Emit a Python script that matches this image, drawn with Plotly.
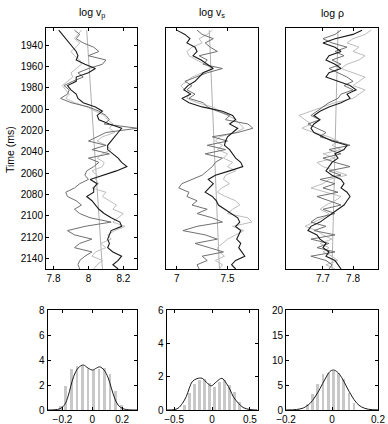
import plotly.graph_objects as go

# sample times (ms) of the well-log traces
time_ms = [1926, 1930, 1934, 1938, 1942, 1946, 1950, 1954, 1958, 1962,
           1966, 1970, 1974, 1978, 1982, 1986, 1990, 1994, 1998, 2002,
           2006, 2010, 2014, 2018, 2022, 2026, 2030, 2034, 2038, 2042,
           2046, 2050, 2054, 2058, 2062, 2066, 2070, 2074, 2078, 2082,
           2086, 2090, 2094, 2098, 2102, 2106, 2110, 2114, 2118, 2122,
           2126, 2130, 2134, 2138, 2142, 2146, 2150]

trend_t = [1926, 2150]

# log vp
vp_black = [7.83, 7.85, 7.87, 7.89, 7.91, 7.93, 7.94, 7.93, 7.98, 8.04,
            8.00, 7.93, 7.93, 7.88, 7.90, 7.93, 7.94, 7.97, 8.04, 8.08,
            8.05, 8.06, 8.12, 8.19, 8.17, 8.15, 8.13, 8.11, 8.11, 8.14,
            8.17, 8.19, 8.22, 8.16, 8.08, 8.01, 8.05, 8.03, 8.03, 7.99,
            8.02, 8.04, 8.06, 8.09, 8.13, 8.18, 8.19, 8.13, 8.12, 8.11,
            8.12, 8.11, 8.14, 8.19, 8.17, 8.14, 8.17]
vp_dark = [7.92, 7.95, 7.93, 7.97, 8.03, 8.06, 8.00, 8.10, 8.08, 8.00,
           7.94, 7.97, 7.91, 7.86, 7.89, 7.88, 7.84, 7.90, 8.00, 8.06,
           8.10, 8.12, 8.09, 8.28, 8.10, 8.05, 8.00, 8.10, 8.02, 8.12,
           8.00, 8.06, 8.03, 7.99, 7.98, 8.00, 7.95, 7.92, 7.87, 7.88,
           7.93, 7.96, 7.92, 7.95, 8.01, 8.13, 7.98, 7.88, 7.92, 8.02,
           7.95, 7.92, 8.02, 7.98, 7.95, 7.94, 7.95]
vp_light = [7.96, 7.94, 7.92, 7.95, 7.93, 7.90, 7.92, 7.95, 7.96, 7.93,
            7.90, 7.91, 7.88, 7.85, 7.87, 7.89, 7.87, 7.92, 7.99, 8.04,
            8.09, 8.11, 8.14, 8.12, 8.15, 8.08, 8.05, 8.10, 8.13, 8.08,
            8.05, 8.09, 8.08, 8.02, 8.05, 8.04, 8.06, 8.02, 8.10, 8.08,
            8.12, 8.16, 8.14, 8.20, 8.17, 8.14, 8.21, 8.15, 8.11, 8.13,
            8.07, 8.10, 8.04, 8.02, 8.08, 8.05, 8.03]
vp_trend = [7.99, 8.08]

# log vs
vs_black = [7.00, 7.08, 7.13, 7.10, 7.18, 7.20, 7.16, 7.24, 7.30, 7.36,
            7.26, 7.22, 7.18, 7.11, 7.07, 7.14, 7.05, 7.12, 7.25, 7.45,
            7.55, 7.58, 7.52, 7.60, 7.55, 7.50, 7.48, 7.47, 7.52, 7.55,
            7.58, 7.63, 7.65, 7.52, 7.38, 7.31, 7.36, 7.32, 7.28, 7.35,
            7.39, 7.41, 7.47, 7.53, 7.60, 7.62, 7.58, 7.63, 7.61, 7.59,
            7.63, 7.61, 7.64, 7.67, 7.58, 7.54, 7.58]
vs_dark = [7.20, 7.25, 7.36, 7.28, 7.33, 7.40, 7.22, 7.30, 7.26, 7.45,
           7.30, 7.18, 7.08, 7.15, 7.10, 7.18, 7.12, 7.26, 7.30, 7.40,
           7.52, 7.48, 7.70, 7.75, 7.60, 7.35, 7.50, 7.30, 7.48, 7.28,
           7.45, 7.38, 7.35, 7.30, 7.25, 7.15, 7.05, 7.02, 7.12, 7.10,
           7.20, 7.15, 7.30, 7.20, 7.35, 7.45, 7.20, 7.06, 7.28, 7.40,
           7.18, 7.32, 7.46, 7.25, 7.30, 7.20, 7.22]
vs_light = [7.35, 7.30, 7.22, 7.25, 7.15, 7.10, 7.12, 7.20, 7.28, 7.35,
            7.25, 7.15, 7.10, 7.04, 7.08, 7.12, 7.10, 7.20, 7.35, 7.42,
            7.50, 7.58, 7.62, 7.66, 7.58, 7.42, 7.38, 7.45, 7.40, 7.50,
            7.46, 7.55, 7.50, 7.58, 7.48, 7.46, 7.52, 7.44, 7.40, 7.48,
            7.58, 7.62, 7.55, 7.50, 7.70, 7.74, 7.55, 7.66, 7.58, 7.50,
            7.45, 7.40, 7.42, 7.47, 7.38, 7.45, 7.42]
vs_trend = [7.32, 7.42]

# log rho
rho_black = [7.83, 7.80, 7.74, 7.70, 7.74, 7.76, 7.72, 7.71, 7.74, 7.76,
             7.72, 7.71, 7.75, 7.79, 7.81, 7.78, 7.79, 7.76, 7.72, 7.69,
             7.67, 7.69, 7.67, 7.66, 7.67, 7.70, 7.73, 7.78, 7.77, 7.74,
             7.75, 7.73, 7.72, 7.71, 7.73, 7.76, 7.77, 7.76, 7.78, 7.79,
             7.78, 7.77, 7.75, 7.73, 7.71, 7.69, 7.66, 7.65, 7.68, 7.69,
             7.71, 7.70, 7.72, 7.71, 7.74, 7.75, 7.76]
rho_dark = [7.76, 7.74, 7.70, 7.73, 7.78, 7.74, 7.77, 7.73, 7.76, 7.72,
            7.75, 7.78, 7.80, 7.77, 7.80, 7.76, 7.75, 7.72, 7.70, 7.68,
            7.66, 7.69, 7.65, 7.68, 7.71, 7.69, 7.74, 7.79, 7.72, 7.76,
            7.70, 7.74, 7.79, 7.72, 7.76, 7.69, 7.74, 7.70, 7.75, 7.68,
            7.72, 7.76, 7.70, 7.74, 7.68, 7.66, 7.71, 7.67, 7.74, 7.66,
            7.72, 7.68, 7.74, 7.66, 7.71, 7.73, 7.72]
rho_light = [7.86, 7.84, 7.80, 7.78, 7.82, 7.80, 7.84, 7.82, 7.78, 7.76,
             7.80, 7.84, 7.82, 7.80, 7.84, 7.82, 7.80, 7.74, 7.70, 7.66,
             7.62, 7.64, 7.66, 7.63, 7.67, 7.72, 7.75, 7.73, 7.76, 7.70,
             7.74, 7.68, 7.70, 7.74, 7.78, 7.72, 7.70, 7.66, 7.71, 7.76,
             7.74, 7.71, 7.69, 7.72, 7.70, 7.67, 7.64, 7.68, 7.70, 7.73,
             7.69, 7.72, 7.70, 7.73, 7.75, 7.71, 7.74]
rho_trend = [7.75, 7.73]

# residual histograms (bar centres / heights) and fitted densities
hp_bins = [-0.217, -0.18, -0.143, -0.106, -0.069, -0.032, 0.005, 0.042, 0.079, 0.116, 0.153, 0.19]
hp_counts = [0.3, 1.9, 3.3, 3.55, 3.5, 3.25, 3.2, 3.3, 3.4, 2.9, 1.5, 0.4]
cp_x = [-0.3, -0.251, -0.217, -0.184, -0.162, -0.144, -0.124, -0.095, -0.061, -0.028,
        0.001, 0.028, 0.05, 0.079, 0.106, 0.128, 0.15, 0.173, 0.206, 0.251, 0.3]
cp_y = [0.0, 0.02, 0.1, 0.45, 1.1, 1.9, 2.7, 3.35, 3.6, 3.35,
        3.2, 3.35, 3.45, 3.2, 2.6, 1.75, 0.95, 0.4, 0.1, 0.01, 0.0]

hs_bins = [-0.371, -0.305, -0.24, -0.174, -0.108, -0.042, 0.024, 0.09, 0.156, 0.222, 0.288, 0.354]
hs_counts = [0.3, 1.0, 1.55, 1.8, 1.85, 1.6, 1.4, 1.7, 1.8, 1.5, 1.1, 0.5]
cs_x = [-0.6, -0.5, -0.45, -0.39, -0.34, -0.3, -0.26, -0.2, -0.13, -0.06,
        -0.01, 0.06, 0.13, 0.19, 0.24, 0.28, 0.35, 0.41, 0.5, 0.6]
cs_y = [0.0, 0.02, 0.1, 0.4, 0.8, 1.3, 1.7, 1.88, 1.9, 1.6,
        1.45, 1.7, 1.9, 1.6, 1.2, 0.8, 0.4, 0.15, 0.03, 0.0]

hr_bins = [-0.107, -0.084, -0.062, -0.039, -0.016, 0.006, 0.028, 0.05, 0.074, 0.096]
hr_counts = [1.2, 3.2, 5.3, 7.2, 7.5, 7.8, 7.4, 6.2, 3.4, 1.5]
cr_x = [-0.2, -0.154, -0.125, -0.096, -0.074, -0.052, -0.03, -0.009, 0.006, 0.023,
        0.042, 0.064, 0.086, 0.107, 0.129, 0.158, 0.2]
cr_y = [0.0, 0.1, 0.4, 1.3, 2.6, 4.3, 6.2, 7.7, 8.0, 7.6,
        6.5, 4.6, 2.8, 1.4, 0.6, 0.15, 0.02]

W, H = 388, 424
BLACK, DARK, LIGHT, TREND, BAR = "#1a1a1a", "#707070", "#bdbdbd", "#b0b0b0", "#c8c8c8"
FONT = "Liberation Sans, Arial, sans-serif"


def px_x(a, b):
    return [a / W, b / W]


def px_y(top, bottom):
    return [1 - bottom / H, 1 - top / H]


fig = go.Figure()

logs = [
    (vp_trend, vp_light, vp_dark, vp_black),
    (vs_trend, vs_light, vs_dark, vs_black),
    (rho_trend, rho_light, rho_dark, rho_black),
]
for i, (trend, light, dark, black) in enumerate(logs):
    ax = "" if i == 0 else str(i + 1)
    for vals, tt, col, w in [(trend, trend_t, TREND, 1.0), (light, time_ms, LIGHT, 1.0),
                             (dark, time_ms, DARK, 1.0), (black, time_ms, BLACK, 1.1)]:
        fig.add_trace(go.Scatter(x=vals, y=tt, mode="lines", line=dict(color=col, width=w),
                                 xaxis="x" + ax, yaxis="y" + ax, showlegend=False))

hists = [(hp_bins, hp_counts, cp_x, cp_y, 0.019),
         (hs_bins, hs_counts, cs_x, cs_y, 0.034),
         (hr_bins, hr_counts, cr_x, cr_y, 0.011)]
for i, (bx, by, cx, cy, bw) in enumerate(hists):
    ax = str(i + 4)
    fig.add_trace(go.Bar(x=bx, y=by, width=bw, marker=dict(color=BAR, line=dict(width=0)),
                         xaxis="x" + ax, yaxis="y" + ax, showlegend=False))
    fig.add_trace(go.Scatter(x=cx, y=cy, mode="lines", line=dict(color=BLACK, width=1, shape="spline"),
                             xaxis="x" + ax, yaxis="y" + ax, showlegend=False))

axis_style = dict(showline=True, linecolor="#000", linewidth=1, mirror="ticks", ticks="inside",
                  ticklen=3, tickcolor="#000", showgrid=False, zeroline=False, automargin=False,
                  tickfont=dict(size=10, color="#000"))

top_x = [(46, 137), (166, 258), (286, 378)]
bot_x = [(47.5, 137), (166.5, 257.5), (286, 378)]
top_y = px_y(28, 269)
bot_y = px_y(310, 410)

layout = dict(
    width=W, height=H, margin=dict(l=0, r=0, t=0, b=0, autoexpand=False),
    paper_bgcolor="white", plot_bgcolor="white",
    font=dict(family=FONT, size=10, color="#000"),
    bargap=0,
)
x_ranges = [[7.757, 8.278], [6.894, 7.80], [7.577, 7.883]]
x_ticks = [[7.8, 8.0, 8.2], [7.0, 7.5], [7.7, 7.8]]
x_text = [["7.8", "8", "8.2"], ["7", "7.5"], ["7.7", "7.8"]]
for i in range(3):
    key = "" if i == 0 else str(i + 1)
    layout["xaxis" + key] = dict(axis_style, domain=px_x(*top_x[i]), range=x_ranges[i],
                                 tickvals=x_ticks[i], ticktext=x_text[i], anchor="y" + key)
    ydict = dict(axis_style, domain=top_y, range=[2150, 1924], anchor="x" + key)
    if i == 0:
        ydict.update(tickvals=[1940, 1960, 1980, 2000, 2020, 2040, 2060, 2080, 2100, 2120, 2140])
    else:
        ydict.update(ticks="", showticklabels=False)
    layout["yaxis" + key] = ydict

hx_ranges = [[-0.3, 0.3], [-0.6, 0.6], [-0.2, 0.2]]
hx_ticks = [[-0.2, 0, 0.2], [-0.5, 0, 0.5], [-0.2, 0, 0.2]]
hx_text = [["\u22120.2", "0", "0.2"], ["\u22120.5", "0", "0.5"], ["\u22120.2", "0", "0.2"]]
hy_ranges = [[0, 8], [0, 6], [0, 20]]
hy_ticks = [[0, 2, 4, 6, 8], [0, 2, 4, 6], [0, 5, 10, 15, 20]]
for i in range(3):
    key = str(i + 4)
    layout["xaxis" + key] = dict(axis_style, domain=px_x(*bot_x[i]), range=hx_ranges[i],
                                 tickvals=hx_ticks[i], ticktext=hx_text[i], anchor="y" + key)
    layout["yaxis" + key] = dict(axis_style, domain=bot_y, range=hy_ranges[i],
                                 tickvals=hy_ticks[i], anchor="x" + key)

fig.update_layout(**layout)

titles = ["log v<sub>p</sub>", "log v<sub>s</sub>", "log \u03c1"]
for (a, b), t in zip(top_x, titles):
    fig.add_annotation(text=t, x=(a + b) / 2 / W, y=1 - 13 / H, xref="paper", yref="paper",
                       showarrow=False, font=dict(size=10.5, family=FONT, color="#000"),
                       xanchor="center", yanchor="middle")
fig.add_annotation(text="Time (ms)", x=10 / W, y=1 - 150 / H, xref="paper", yref="paper",
                   showarrow=False, textangle=-90, font=dict(size=10.5, family=FONT, color="#000"),
                   xanchor="center", yanchor="middle")

# the page's default body margin would shift the 388x424 figure; pin it to the corner
fig.write_html("out.html", config={"displayModeBar": False},
               post_script="document.body.style.margin='0';document.body.style.overflow='hidden';")
